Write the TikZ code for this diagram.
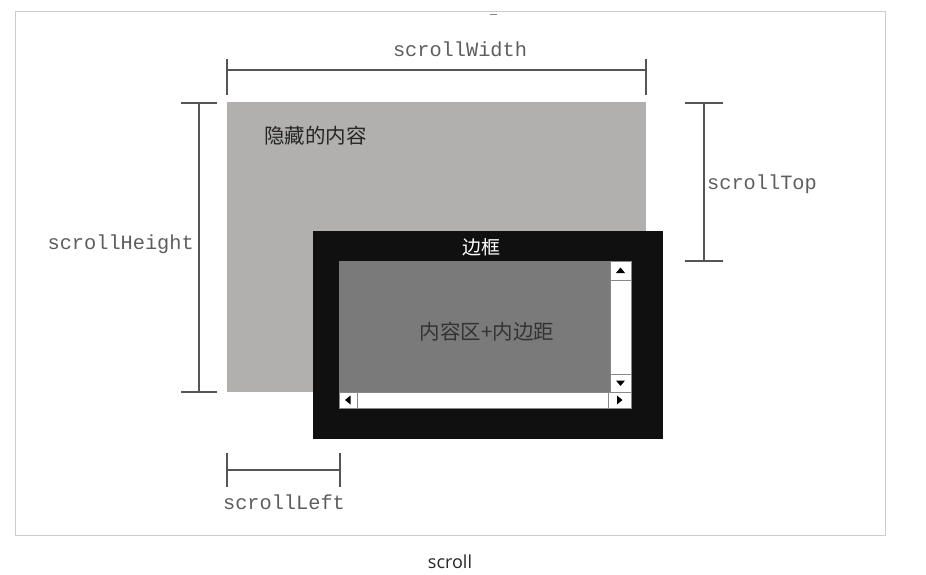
\documentclass[tikz,border=0pt]{standalone}
\usepackage{fontspec}
\setmainfont{Liberation Serif}
\setmonofont{Liberation Mono}
\newfontfamily\cjk{Noto Sans CJK SC}
\newfontfamily\capfont{Open Sans}
\definecolor{framegray}{HTML}{CCCCCC}
\definecolor{hidgray}{HTML}{B1B0AE}
\definecolor{boxblack}{HTML}{111010}
\definecolor{innergray}{HTML}{7A7A7A}
\definecolor{linegray}{HTML}{555555}
\definecolor{labelgray}{HTML}{5E5E5E}
\definecolor{btnborder}{HTML}{888888}
\tikzset{
  box/.style={anchor=north west, inner sep=0pt, outer sep=0pt},
  meas/.style={draw=linegray, line width=1.6pt},
  mlabel/.style={font=\ttfamily\fontsize{20.3}{22}\selectfont, text=labelgray, inner sep=1pt},
  sbar/.style={box, fill=white, draw=btnborder, line width=0.8pt},
  tri/.style={fill=black, draw=none},
}
\begin{document}
\begin{tikzpicture}[x=1pt,y=-1pt]
\useasboundingbox (0,0) rectangle (926,574);
\fill[white] (0,0) rectangle (926,574);
\draw[framegray, line width=1pt] (15,11) rectangle (885,535);
\draw[linegray!70, line width=1.5pt] (490,14.5) -- (497,14.5);

% hidden content
\node[box, fill=hidgray, minimum width=419pt, minimum height=290pt] (hid) at (227,102) {};
\node[anchor=west, font=\cjk\fontsize{20.5}{22}\selectfont, text=black!85, inner sep=0pt] (hidtxt) at (264,136) {隐藏的内容};

% black border box
\node[box, fill=boxblack, minimum width=350pt, minimum height=208pt] (border) at (313,231) {};
\node[font=\cjk\fontsize{19}{21}\selectfont, text=white, inner sep=0pt] (bordertxt) at (481,247) {边框};

% inner content
\node[box, fill=innergray, minimum width=271pt, minimum height=131pt] (inner) at (339,261) {};
\node[font=\cjk\fontsize{20.5}{22}\selectfont, text=black!80, inner sep=0pt] (innertxt) at (487,332) {内容区+内边距};

% scrollbars
\node[sbar, minimum width=21pt, minimum height=131pt] (vbar) at (610,261) {};
\node[sbar, minimum width=21pt, minimum height=19pt] (upbtn) at (610,261) {};
\node[sbar, minimum width=21pt, minimum height=18pt] (downbtn) at (610,374) {};
\node[sbar, minimum width=292pt, minimum height=16pt] (hbar) at (339,392) {};
\node[sbar, minimum width=18pt, minimum height=16pt] (leftbtn) at (339,392) {};
\node[sbar, minimum width=23pt, minimum height=16pt] (rightbtn) at (608,392) {};
\fill[tri] ([shift={(-4.5,2.5)}]upbtn.center) -- ([shift={(4.5,2.5)}]upbtn.center) -- ([shift={(0,-3)}]upbtn.center) -- cycle;
\fill[tri] ([shift={(-4.5,-2.5)}]downbtn.center) -- ([shift={(4.5,-2.5)}]downbtn.center) -- ([shift={(0,3)}]downbtn.center) -- cycle;
\fill[tri] ([shift={(2.5,-4.5)}]leftbtn.center) -- ([shift={(2.5,4.5)}]leftbtn.center) -- ([shift={(-3,0)}]leftbtn.center) -- cycle;
\fill[tri] ([shift={(-2.5,-4.5)}]rightbtn.center) -- ([shift={(-2.5,4.5)}]rightbtn.center) -- ([shift={(3,0)}]rightbtn.center) -- cycle;

% scrollWidth
\coordinate (w1) at (227,70);
\coordinate (w2) at (646,70);
\draw[meas] (w1) -- (w2);
\draw[meas] ([yshift=-25]w1) -- ([yshift=11]w1);
\draw[meas] ([yshift=-25]w2) -- ([yshift=11]w2);
\node[mlabel] (wlab) at (460,49) {scrollWidth};

% scrollHeight
\coordinate (h1) at (199,103);
\coordinate (h2) at (199,392);
\draw[meas] (h1) -- (h2);
\draw[meas] ([xshift=-18]h1) -- ([xshift=18]h1);
\draw[meas] ([xshift=-18]h2) -- ([xshift=18]h2);
\node[mlabel, anchor=east] (hlab) at (195,244) {scrollHeight};

% scrollTop
\coordinate (t1) at (704,103);
\coordinate (t2) at (704,261);
\draw[meas] (t1) -- (t2);
\draw[meas] ([xshift=-19]t1) -- ([xshift=19]t1);
\draw[meas] ([xshift=-19]t2) -- ([xshift=19]t2);
\node[mlabel, anchor=west] (tlab) at (706,184) {scrollTop};

% scrollLeft
\coordinate (l1) at (227,470);
\coordinate (l2) at (340,470);
\draw[meas] (l1) -- (l2);
\draw[meas] ([yshift=-17]l1) -- ([yshift=17]l1);
\draw[meas] ([yshift=-17]l2) -- ([yshift=17]l2);
\node[mlabel] (llab) at (284,502) {scrollLeft};

% caption
\node[font=\capfont\fontsize{18}{20}\selectfont, text=black!85] (cap) at (450,562) {scroll};
\end{tikzpicture}
\end{document}
